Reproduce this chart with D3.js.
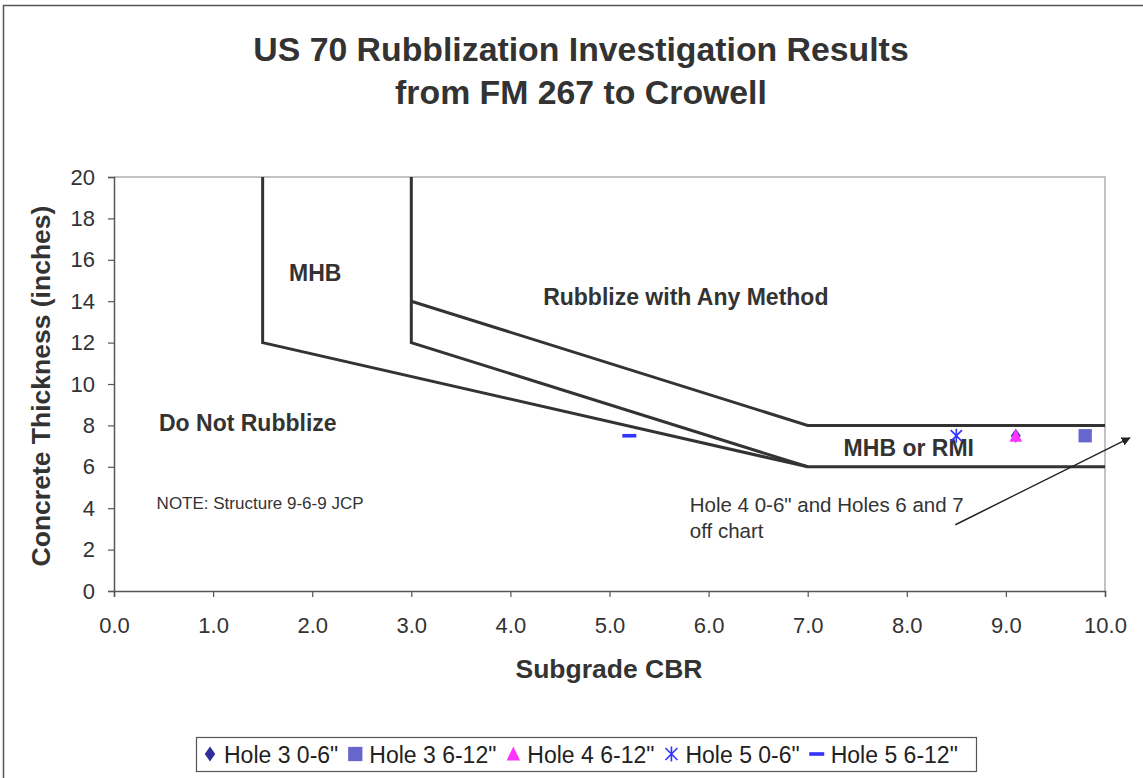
<!DOCTYPE html>
<html>
<head>
<meta charset="utf-8">
<script src="https://cdn.jsdelivr.net/npm/d3@7"></script>
<style>
  body { margin: 0; background: #fff; }
  text { font-family: "Liberation Sans", Arial, sans-serif; }
</style>
</head>
<body>
<div id="chart"></div>
<script>
const width = 1143, height = 778

// zone boundary lines (CBR, thickness)
const boundaryA = [[1.5, 20], [1.5, 12], [7, 6], [10, 6]]
const boundaryB = [[3, 20], [3, 12], [7, 6]]
const boundaryC = [[3, 14], [7, 8], [10, 8]]

// measured holes
const seriesNames = ['Hole 3 0-6"', 'Hole 3 6-12"', 'Hole 4 6-12"', 'Hole 5 0-6"', 'Hole 5 6-12"']
const seriesCBR = [9.1, 9.8, 9.1, 8.5, 5.2]
const seriesThick = [7.5, 7.5, 7.5, 7.5, 7.5]

const xTicks = [0, 1, 2, 3, 4, 5, 6, 7, 8, 9, 10]
const yTicks = [0, 2, 4, 6, 8, 10, 12, 14, 16, 18, 20]

const margin = { left: 114, right: 38, top: 177, bottom: 187 }

const svg = d3.select("#chart").append("svg")
  .attr("width", width)
  .attr("height", height)

// outer frame (runs past the right / bottom of the picture)
svg.append("rect")
  .attr("x", 3.5).attr("y", 5.5)
  .attr("width", 1160).attr("height", 800)
  .attr("fill", "none").attr("stroke", "#555").attr("stroke-width", 1.5)

let x = d3.scaleLinear().domain([0, 10]).range([margin.left, width - margin.right])
let y = d3.scaleLinear().domain([0, 20]).range([height - margin.bottom, margin.top])

// plot border (top/right)
svg.append("path")
  .attr("d", `M${x(0)},${y(20)}H${x(10)}V${y(0)}`)
  .attr("fill", "none").attr("stroke", "#b0b0b0").attr("stroke-width", 1.5)

// axes
let xAxis = svg.append("g")
  .attr("transform", `translate(0,${y(0)})`)
  .call(d3.axisBottom(x).tickValues(xTicks).tickFormat(d3.format(".1f")).tickSize(6).tickPadding(20))
let yAxis = svg.append("g")
  .attr("transform", `translate(${x(0)},0)`)
  .call(d3.axisLeft(y).tickValues(yTicks).tickSize(6).tickPadding(13))

svg.selectAll(".domain").attr("stroke", "#555").attr("stroke-width", 1.5)
svg.selectAll(".tick line").attr("stroke", "#555").attr("stroke-width", 1.2)
svg.selectAll(".tick text")
  .attr("fill", "#333")
  .style("font-size", "22px")
  .style("font-family", "Liberation Sans, Arial, sans-serif")

// boundaries
let line = d3.line().x(d => x(d[0])).y(d => y(d[1]))
;[boundaryA, boundaryB, boundaryC].forEach(b => {
  svg.append("path")
    .attr("d", line(b))
    .attr("fill", "none")
    .attr("stroke", "#333")
    .attr("stroke-width", 3)
})

// zone labels
const zoneLabels = [
  { t: "MHB", cx: 2.03, cy: 15.36 },
  { t: "Rubblize with Any Method", cx: 5.77, cy: 14.2 },
  { t: "Do Not Rubblize", cx: 1.35, cy: 8.12 },
  { t: "MHB or RMI", cx: 8.02, cy: 6.9 }
]
zoneLabels.forEach(l => {
  svg.append("text")
    .attr("x", x(l.cx)).attr("y", y(l.cy))
    .attr("text-anchor", "middle")
    .attr("dy", "0.36em")
    .attr("font-weight", "bold")
    .attr("font-size", 23)
    .attr("fill", "#333")
    .text(l.t)
})

svg.append("text")
  .attr("x", x(0.43)).attr("y", y(3.96))
  .attr("font-size", 17).attr("fill", "#333")
  .text("NOTE: Structure 9-6-9 JCP")

svg.append("text")
  .attr("x", x(5.81)).attr("y", y(3.82))
  .attr("font-size", 20.5).attr("fill", "#333")
  .text('Hole 4 0-6" and Holes 6 and 7')
svg.append("text")
  .attr("x", x(5.81)).attr("y", y(2.56))
  .attr("font-size", 20.5).attr("fill", "#333")
  .text("off chart")

// arrow
svg.append("defs").append("marker")
  .attr("id", "arrowhead")
  .attr("viewBox", "0 0 10 10")
  .attr("refX", 9).attr("refY", 5)
  .attr("markerWidth", 9).attr("markerHeight", 9)
  .attr("markerUnits", "userSpaceOnUse")
  .attr("orient", "auto")
  .append("path").attr("d", "M0,0L10,5L0,10z").attr("fill", "#222")
svg.append("line")
  .attr("x1", x(8.49)).attr("y1", y(3.2))
  .attr("x2", x(10.25)).attr("y2", y(7.4))
  .attr("stroke", "#222").attr("stroke-width", 1.5)
  .attr("marker-end", "url(#arrowhead)")

// markers
const markerColors = ["#2e2e9a", "#6666cc", "#ff33ff", "#3333ff", "#3333ff"]
function drawMarker(g, i, cx, cy, s) {
  let c = markerColors[i]
  if (i == 0) {
    g.append("path").attr("d", `M${cx},${cy - s}L${cx + s * 0.7},${cy}L${cx},${cy + s}L${cx - s * 0.7},${cy}Z`).attr("fill", c)
  } else if (i == 1) {
    g.append("rect").attr("x", cx - s * 0.95).attr("y", cy - s * 0.95).attr("width", s * 1.9).attr("height", s * 1.9).attr("fill", c)
  } else if (i == 2) {
    g.append("path").attr("d", `M${cx},${cy - s}L${cx + s * 0.9},${cy + s * 0.85}L${cx - s * 0.9},${cy + s * 0.85}Z`).attr("fill", c)
  } else if (i == 3) {
    g.append("path")
      .attr("d", `M${cx - s * 0.8},${cy - s * 0.8}L${cx + s * 0.8},${cy + s * 0.8}M${cx + s * 0.8},${cy - s * 0.8}L${cx - s * 0.8},${cy + s * 0.8}M${cx},${cy - s}L${cx},${cy + s}`)
      .attr("stroke", c).attr("stroke-width", 1.6).attr("fill", "none")
  } else {
    g.append("rect").attr("x", cx - s).attr("y", cy - 1.8).attr("width", s * 2).attr("height", 3.6).attr("fill", c)
  }
}

let pts = svg.append("g")
seriesNames.forEach((n, i) => {
  drawMarker(pts, i, x(seriesCBR[i]), y(seriesThick[i]), 7)
})

// titles
svg.append("text")
  .attr("x", 581).attr("y", 61)
  .attr("text-anchor", "middle")
  .attr("font-weight", "bold").attr("font-size", 33.8).attr("fill", "#333")
  .text("US 70 Rubblization Investigation Results")
svg.append("text")
  .attr("x", 581).attr("y", 104)
  .attr("text-anchor", "middle")
  .attr("font-weight", "bold").attr("font-size", 33.8).attr("fill", "#333")
  .text("from FM 267 to Crowell")

svg.append("text")
  .attr("x", 609).attr("y", 678)
  .attr("text-anchor", "middle")
  .attr("font-weight", "bold").attr("font-size", 26.5).attr("fill", "#333")
  .text("Subgrade CBR")

svg.append("text")
  .attr("transform", `translate(50,${(y(0) + y(20)) / 2 + 2}) rotate(-90)`)
  .attr("text-anchor", "middle")
  .attr("font-weight", "bold").attr("font-size", 26.5).attr("fill", "#333")
  .text("Concrete Thickness (inches)")

// legend
let legend = svg.append("g")
legend.append("rect")
  .attr("x", 196.5).attr("y", 737.5)
  .attr("width", 780).attr("height", 34)
  .attr("fill", "#fff").attr("stroke", "#555").attr("stroke-width", 1.2)

let lx = 210
seriesNames.forEach((n, i) => {
  drawMarker(legend, i, lx, 754, 7.5)
  let t = legend.append("text")
    .attr("x", lx + 14).attr("y", 763)
    .attr("font-size", 23).attr("fill", "#222")
    .text(n)
  lx += 14 + t.node().getComputedTextLength() + 17
})
</script>
</body>
</html>
